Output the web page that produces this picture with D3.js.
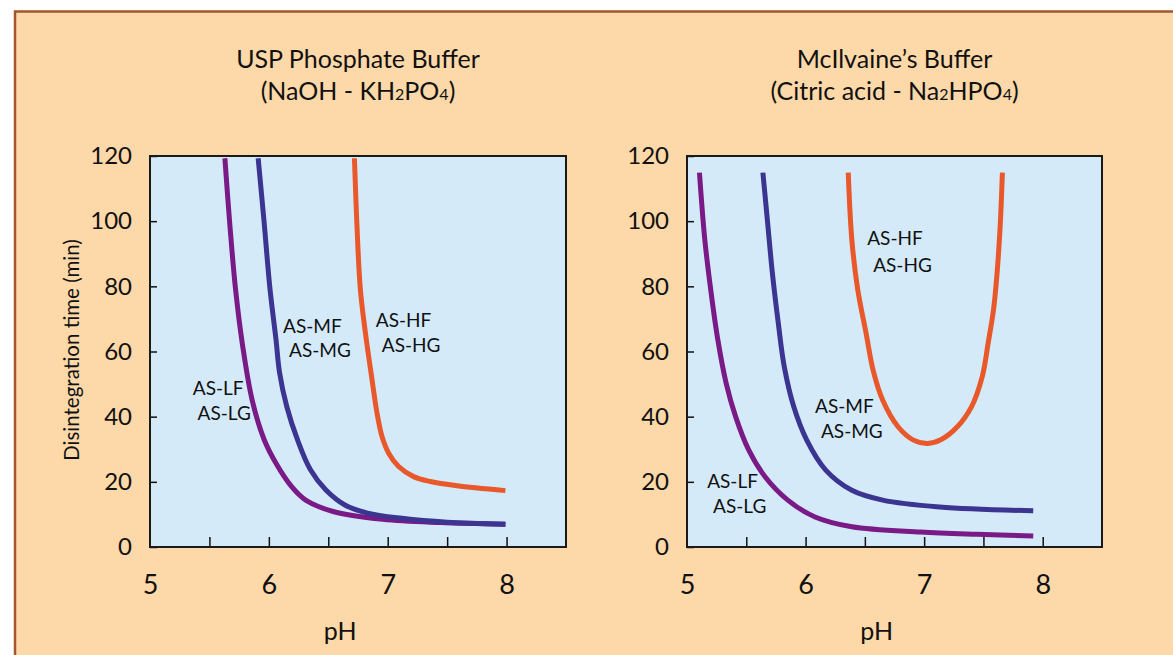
<!DOCTYPE html>
<html>
<head>
<meta charset="utf-8">
<script src="https://cdn.jsdelivr.net/npm/d3@7"></script>
<style>
  body { margin: 0; background: #fff; }
  text { font-family: Lato, "Noto Sans", sans-serif; fill: #111; }
</style>
</head>
<body>
<script>
// ---- data (pH vs disintegration time, min) ----
const yTicks = [0, 20, 40, 60, 80, 100, 120];
const xLabelTicks = [5, 6, 7, 8];
const xMinorTicks = [5.5, 6, 6.5, 7, 7.5, 8];

// USP phosphate buffer
const uspLow = [[5.63,119.3],[5.67,99.7],[5.72,79],[5.78,61.6],[5.86,45],[5.96,33],[6.06,25.7],[6.19,18.6],[6.31,14.4],[6.54,10.9],[6.96,8.5],[7.44,7.5],[7.99,7.0]];
const uspMid = [[5.91,119.3],[5.96,99.7],[6.01,79],[6.06,63.7],[6.09,53.5],[6.15,43.2],[6.24,33],[6.35,23.7],[6.48,17.5],[6.64,12.9],[6.83,10.4],[7.12,8.8],[7.5,7.6],[7.99,7.0]];
const uspHigh = [[6.72,119.3],[6.74,99.7],[6.77,79],[6.815,65],[6.868,51.4],[6.91,41.1],[6.952,33.9],[7.008,28.8],[7.092,24.7],[7.218,21.6],[7.359,20.1],[7.584,18.8],[7.99,17.3]];

// McIlvaine's buffer
const mcLow = [[5.105,114.9],[5.15,94.4],[5.20,79],[5.26,63.6],[5.33,50.3],[5.41,40],[5.52,29.8],[5.66,21.5],[5.85,14.4],[6.08,9.2],[6.39,6.2],[6.97,4.6],[7.45,3.9],[7.92,3.4]];
const mcMid = [[5.64,114.9],[5.68,99.5],[5.72,84.1],[5.77,68.7],[5.82,55.4],[5.90,43.1],[6.01,32.8],[6.17,23.6],[6.39,17.4],[6.65,14.4],[7.13,12.3],[7.92,11.1]];
const mcHigh = [[6.36,114.9],[6.39,94.4],[6.44,79],[6.51,65.7],[6.57,54.2],[6.65,45.1],[6.78,36.9],[6.91,32.8],[7.03,31.8],[7.14,32.9],[7.28,36.9],[7.40,43.1],[7.49,52.3],[7.54,62.6],[7.585,72.8],[7.613,83.1],[7.641,98.4],[7.66,114.9]];

// curve labels: [pH, time, line1, pH, time, line2]
const uspLabels = [
  [5.36, 46.8, "AS-LF", 5.40, 39.1, "AS-LG"],
  [6.12, 65.8, "AS-MF", 6.17, 58.2, "AS-MG"],
  [6.90, 67.4, "AS-HF", 6.95, 59.7, "AS-HG"]
];
const mcLabels = [
  [6.52, 92.8, "AS-HF", 6.57, 84.5, "AS-HG"],
  [6.08, 41.1, "AS-MF", 6.13, 33.4, "AS-MG"],
  [5.17, 18.1, "AS-LF", 5.22, 10.4, "AS-LG"]
];

const colors = { low: "#7a1a86", mid: "#3b3591", high: "#e8582a" };

const W = 1173, H = 655;
const svg = d3.select("body").append("svg").attr("width", W).attr("height", H);

// peach frame
svg.append("rect").attr("x", 15).attr("y", 11).attr("width", W).attr("height", H)
  .attr("fill", "#fdd8a8");
svg.append("path").attr("d", `M15,${H} L15,11.5 L${W},11.5`)
  .attr("fill", "none").attr("stroke", "#a3552b").attr("stroke-width", 2.5);

function panel(left, right, title1, title2parts, series, labels) {
  const top = 156, bottom = 547;
  const x = d3.scaleLinear().domain([5, 8.5]).range([left, right]);
  const y = d3.scaleLinear().domain([0, 120]).range([bottom, top]);
  const g = svg.append("g");

  g.append("rect").attr("x", left).attr("y", top)
    .attr("width", right - left).attr("height", bottom - top)
    .attr("fill", "#d4eaf9");

  // titles
  const cx = (left + right) / 2;
  g.append("text").attr("x", cx).attr("y", 68).attr("text-anchor", "middle")
    .style("font-size", "25px").text(title1);
  const t2 = g.append("text").attr("x", cx).attr("y", 100).attr("text-anchor", "middle")
    .style("font-size", "25px");
  title2parts.forEach(p => {
    t2.append("tspan").style("font-size", p.sub ? "16px" : "25px").text(p.t);
  });

  // curves
  const line = d3.line().x(d => x(d[0])).y(d => y(d[1])).curve(d3.curveCatmullRom.alpha(0.5));
  series.forEach(s => {
    g.append("path").datum(s.data).attr("d", line)
      .attr("fill", "none").attr("stroke", s.color).attr("stroke-width", 5);
  });

  // y axis
  const ya = g.append("g").attr("transform", `translate(${left},0)`)
    .call(d3.axisLeft(y).tickValues(yTicks).tickSizeInner(-7).tickSizeOuter(0).tickPadding(18));
  ya.select(".domain").remove();
  ya.selectAll("line").attr("stroke", "#111").attr("stroke-width", 1.5);
  ya.selectAll("text").style("font-size", "24px").attr("fill", "#111");

  // x axis tick marks (inward) and labels
  const xm = g.append("g").attr("transform", `translate(0,${bottom})`)
    .call(d3.axisBottom(x).tickValues(xMinorTicks).tickSizeInner(-10).tickSizeOuter(0).tickFormat(""));
  xm.select(".domain").remove();
  xm.selectAll("line").attr("stroke", "#111").attr("stroke-width", 1.5);
  const xl = g.append("g").attr("transform", `translate(0,${bottom})`)
    .call(d3.axisBottom(x).tickValues(xLabelTicks).tickSize(0).tickPadding(28).tickFormat(d3.format("d")));
  xl.select(".domain").remove();
  xl.selectAll("text").style("font-size", "27px").attr("fill", "#111");

  g.append("text").attr("x", x(6.6)).attr("y", 640).attr("text-anchor", "middle")
    .style("font-size", "25px").text("pH");

  // frame
  g.append("rect").attr("x", left).attr("y", top)
    .attr("width", right - left).attr("height", bottom - top)
    .attr("fill", "none").attr("stroke", "#1a1a1a").attr("stroke-width", 2);

  // curve labels
  labels.forEach(l => {
    g.append("text").attr("x", x(l[0])).attr("y", y(l[1])).style("font-size", "19px").text(l[2]);
    g.append("text").attr("x", x(l[3])).attr("y", y(l[4])).style("font-size", "19px").text(l[5]);
  });
  return g;
}

panel(150, 566, "USP Phosphate Buffer",
  [{t: "(NaOH - KH"}, {t: "2", sub: true}, {t: "PO"}, {t: "4", sub: true}, {t: ")"}],
  [{data: uspLow, color: colors.low}, {data: uspMid, color: colors.mid}, {data: uspHigh, color: colors.high}],
  uspLabels);

panel(687, 1102, "McIlvaine\u2019s Buffer",
  [{t: "(Citric acid - Na"}, {t: "2", sub: true}, {t: "HPO"}, {t: "4", sub: true}, {t: ")"}],
  [{data: mcLow, color: colors.low}, {data: mcMid, color: colors.mid}, {data: mcHigh, color: colors.high}],
  mcLabels);

// y axis title (left panel only)
svg.append("text").attr("transform", "translate(79,350) rotate(-90)")
  .attr("text-anchor", "middle").style("font-size", "20.5px")
  .text("Disintegration time (min)");
</script>
</body>
</html>
